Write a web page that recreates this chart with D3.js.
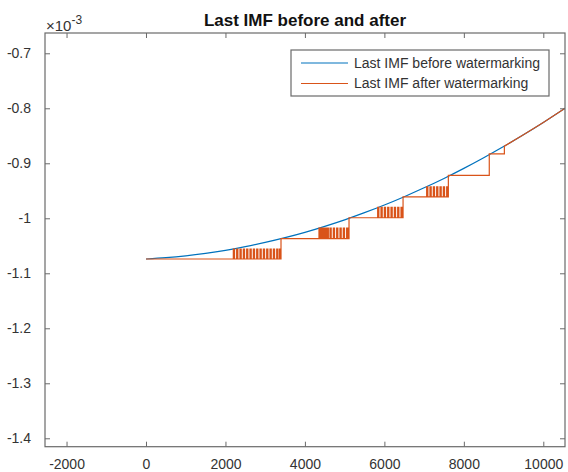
<!DOCTYPE html>
<html>
<head>
<meta charset="utf-8">
<script src="https://cdn.jsdelivr.net/npm/d3@7"></script>
<style>
  html, body { margin: 0; padding: 0; background: #fff; }
  svg { display: block; font-family: "Liberation Sans", Arial, Helvetica, sans-serif; }
</style>
</head>
<body>
<div id="chart"></div>
<script>
// values in units of 1e-3 (axis exponent shown top-left)

// blue: last IMF before watermarking
const beforeX = [0, 500, 1000, 1500, 2000, 2500, 3000, 3500, 4000, 4500, 5000,
  5500, 6000, 6500, 7000, 7500, 8000, 8500, 9000, 9500, 10000, 10500, 10546];
const beforeY = [-1.074, -1.0716, -1.0682, -1.0637, -1.0582, -1.0516, -1.0439, -1.0352,
  -1.0255, -1.0146, -1.0028, -0.9898, -0.9758, -0.9607, -0.9446, -0.9275, -0.9092,
  -0.8899, -0.8696, -0.8482, -0.8257, -0.8022, -0.800];

// orange: last IMF after watermarking (held steps + comb bursts)
const holdStart = [0, 3398, 5110, 6470, 7610, 8640, 9020];
const holdLevel = [-1.074, -1.037, -0.999, -0.961, -0.922, -0.883, -0.8688];
const combHigh = [-1.056, -1.018, -0.980, -0.943];
const combTeeth = [
  [2198, 2282, 2366, 2450, 2534, 2618, 2702, 2786, 2870, 2954, 3038, 3122, 3206, 3290, 3360],
  [4354, 4395, 4436, 4477, 4518, 4560, 4631, 4715, 4799, 4883, 4966, 5050],
  [5831, 5915, 5999, 6083, 6167, 6251, 6335, 6419],
  [7064, 7148, 7232, 7316, 7400, 7484, 7568]
];
const toothWidth = 30;

const xTicks = [-2000, 0, 2000, 4000, 6000, 8000, 10000];
const yTicks = [-1.4, -1.3, -1.2, -1.1, -1, -0.9, -0.8, -0.7];

const width = 568, height = 472;
const box = { left: 45, top: 33, right: 565, bottom: 446.7 };

const svg = d3.select("#chart").append("svg")
  .attr("width", width)
  .attr("height", height);

const x = d3.scaleLinear().domain([-2542, 10546]).range([box.left, box.right]);
const y = d3.scaleLinear().domain([-1.4153, -0.6631]).range([box.bottom, box.top]);

const axisColor = "#6a6a6a";
const textColor = "#333";

// build the orange path
const after = [];
holdStart.forEach((s, i) => {
  const low = holdLevel[i];
  after.push([s, low]);
  if (i < combTeeth.length) {
    combTeeth[i].forEach(t => {
      after.push([t, low], [t, combHigh[i]], [t + toothWidth, combHigh[i]], [t + toothWidth, low]);
    });
  }
  if (i + 1 < holdStart.length) {
    after.push([holdStart[i + 1], low]);
  } else {
    beforeX.forEach((bx, j) => { if (bx > s) after.push([bx, beforeY[j]]); });
  }
});

const line = d3.line().x(d => x(d[0])).y(d => y(d[1]));

svg.append("defs").append("clipPath").attr("id", "clip")
  .append("rect")
  .attr("x", box.left).attr("y", box.top)
  .attr("width", box.right - box.left).attr("height", box.bottom - box.top);

const plot = svg.append("g").attr("clip-path", "url(#clip)");

plot.append("path")
  .datum(beforeX.map((bx, i) => [bx, beforeY[i]]))
  .attr("d", d3.line().curve(d3.curveMonotoneX).x(d => x(d[0])).y(d => y(d[1])))
  .attr("fill", "none")
  .attr("stroke", "#0072BD")
  .attr("stroke-width", 1.2);

plot.append("path")
  .datum(after)
  .attr("d", line)
  .attr("fill", "none")
  .attr("stroke", "#D95319")
  .attr("stroke-width", 1.2);

// axes (MATLAB box style, ticks inside on all four sides)
const tickLen = 5;
const fmt = d => String(+d.toFixed(1));
const bottomAx = svg.append("g").attr("transform", `translate(0,${box.bottom})`)
  .call(d3.axisBottom(x).tickValues(xTicks).tickSizeInner(-tickLen).tickSizeOuter(0).tickPadding(12)
    .tickFormat(fmt));
const topAx = svg.append("g").attr("transform", `translate(0,${box.top})`)
  .call(d3.axisTop(x).tickValues(xTicks).tickSizeInner(-tickLen).tickSizeOuter(0).tickFormat(""));
const leftAx = svg.append("g").attr("transform", `translate(${box.left},0)`)
  .call(d3.axisLeft(y).tickValues(yTicks).tickSizeInner(-tickLen).tickSizeOuter(0).tickPadding(14)
    .tickFormat(fmt));
const rightAx = svg.append("g").attr("transform", `translate(${box.right},0)`)
  .call(d3.axisRight(y).tickValues(yTicks).tickSizeInner(-tickLen).tickSizeOuter(0).tickFormat(""));

[bottomAx, topAx, leftAx, rightAx].forEach(g => {
  g.select(".domain").remove();
  g.selectAll(".tick line").attr("stroke", axisColor).attr("stroke-width", 1);
  g.selectAll(".tick text").attr("fill", textColor).attr("font-size", 14)
    .attr("font-family", "'Liberation Sans', Arial, sans-serif");
});

svg.append("rect")
  .attr("x", box.left).attr("y", box.top)
  .attr("width", box.right - box.left).attr("height", box.bottom - box.top)
  .attr("fill", "none")
  .attr("stroke", axisColor)
  .attr("stroke-width", 1.2);

// exponent label
const expo = svg.append("text")
  .attr("x", box.left + 1).attr("y", 30.5)
  .attr("font-size", 15).attr("fill", textColor);
expo.append("tspan").text("\u00d710");
expo.append("tspan").attr("dy", -7).attr("font-size", 12).text("-3");

// title
svg.append("text")
  .attr("x", (box.left + box.right) / 2).attr("y", 26)
  .attr("text-anchor", "middle")
  .attr("font-size", 17).attr("font-weight", "bold").attr("fill", "#111")
  .text("Last IMF before and after");

// legend
const legendItems = [
  { label: "Last IMF before watermarking", color: "#0072BD" },
  { label: "Last IMF after watermarking", color: "#D95319" }
];
const lg = svg.append("g").attr("transform", "translate(291,50)");
lg.append("rect")
  .attr("width", 258).attr("height", 46)
  .attr("fill", "#fff").attr("stroke", axisColor).attr("stroke-width", 1.2);
const li = lg.selectAll("g.item").data(legendItems).enter().append("g")
  .attr("class", "item")
  .attr("transform", (d, i) => `translate(0,${13 + i * 20.5})`);
li.append("line")
  .attr("x1", 10).attr("x2", 57)
  .attr("stroke", d => d.color).attr("stroke-width", 1.2);
li.append("text")
  .attr("x", 63).attr("dy", "0.35em")
  .attr("font-size", 14).attr("fill", textColor)
  .text(d => d.label);
</script>
</body>
</html>
